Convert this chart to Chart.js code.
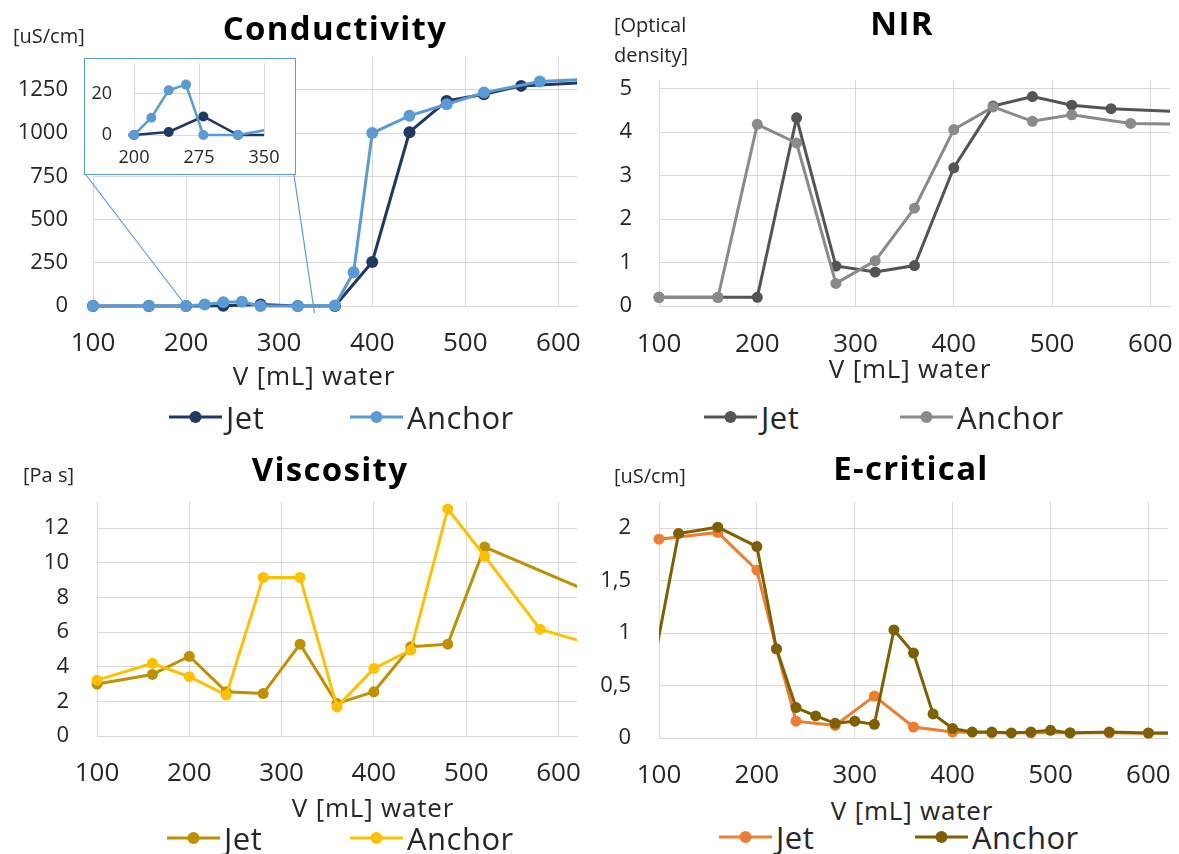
<!DOCTYPE html>
<html><head><meta charset="utf-8">
<script src="https://cdn.jsdelivr.net/npm/chart.js@4.4.1/dist/chart.umd.min.js"></script>
<style>
body{margin:0;background:#fff;width:1179px;height:854px;overflow:hidden;font-family:"Open Sans",sans-serif;color:#262626}
#wrap{position:relative;width:1179px;height:854px}
canvas{position:absolute}
.t{position:absolute;transform:translate(-50%,-50%);font-weight:700;font-size:33px;letter-spacing:1.3px;white-space:nowrap;color:#000}
.u{position:absolute;font-size:20px;line-height:30px;white-space:nowrap;transform:translateY(-50%)}
.xt{position:absolute;transform:translate(-50%,-50%);font-size:26px;letter-spacing:0.8px;white-space:nowrap}
.lg{position:absolute;display:flex;align-items:center;transform:translateY(-50%);font-size:31px;letter-spacing:0.5px;white-space:nowrap}
.lg svg{margin-right:4px}
#inset{background:#fff;outline:1.5px solid #5B9BD5;outline-offset:-1px;z-index:2}
</style>
</head><body><div id="wrap">
<canvas id="c1" width="590" height="360" style="left:0;top:0"></canvas>
<canvas id="c2" width="589" height="360" style="left:590px;top:0"></canvas>
<canvas id="c3" width="590" height="350" style="left:0;top:440px"></canvas>
<canvas id="c4" width="589" height="350" style="left:590px;top:440px"></canvas>
<canvas id="inset" width="212" height="117" style="left:84px;top:58px"></canvas>

<div class="t" style="left:335px;top:27px">Conductivity</div>
<div class="t" style="left:902px;top:22px">NIR</div>
<div class="t" style="left:330px;top:468px">Viscosity</div>
<div class="t" style="left:911px;top:467px">E-critical</div>

<div class="u" style="left:13px;top:36px">[uS/cm]</div>
<div class="u" style="left:614px;top:25px">[Optical</div>
<div class="u" style="left:614px;top:55px">density]</div>
<div class="u" style="left:23px;top:475px">[Pa s]</div>
<div class="u" style="left:614px;top:476px">[uS/cm]</div>

<div class="xt" style="left:314px;top:375px">V [mL] water</div>
<div class="xt" style="left:910px;top:368px">V [mL] water</div>
<div class="xt" style="left:373px;top:807px">V [mL] water</div>
<div class="xt" style="left:912px;top:810px">V [mL] water</div>

<div id="legends"></div>
</div>
<script>
// ---------- DATA ----------
const condJetX    = [100,160,200,240,280,320,360,400,440,480,520,560,640];
const condJet     = [0,0,0,1.5,9,0,0,255,1005,1186,1225,1273,1295];
const condAnchorX = [100,160,200,220,240,260,280,320,360,380,400,440,480,520,580,640];
const condAnchor  = [0,0,0,8.4,21.7,24.5,0,0,3,195,1000,1100,1167,1234,1298,1313];

const nirJetX    = [100,160,200,240,280,320,360,400,440,480,520,560,640];
const nirJet     = [0.2,0.2,0.2,4.33,0.92,0.78,0.93,3.18,4.6,4.82,4.62,4.54,4.46];
const nirAnchorX = [100,160,200,240,280,320,360,400,440,480,520,580,640];
const nirAnchor  = [0.2,0.2,4.18,3.75,0.52,1.04,2.25,4.06,4.58,4.25,4.4,4.2,4.18];

const viscJetX    = [100,160,200,240,280,320,360,400,440,480,520,640];
const viscJet     = [3.0,3.55,4.6,2.55,2.45,5.3,1.87,2.55,5.15,5.3,10.9,8.18];
const viscAnchorX = [100,160,200,240,280,320,360,400,440,480,520,580,640];
const viscAnchor  = [3.22,4.19,3.42,2.36,9.15,9.15,1.68,3.9,4.96,13.1,10.37,6.16,5.23];

const ecJetX    = [100,160,200,220,240,280,320,360,400,440,480,520,560,600,640];
const ecJet     = [1.895,1.96,1.6,0.85,0.16,0.12,0.4,0.105,0.057,0.05,0.05,0.05,0.05,0.045,0.045];
const ecAnchorX = [80,120,160,200,220,240,260,280,300,320,340,360,380,400,420,440,460,480,500,520,560,600,640];
const ecAnchor  = [0,1.95,2.01,1.825,0.85,0.29,0.21,0.14,0.16,0.13,1.03,0.81,0.23,0.09,0.057,0.057,0.048,0.057,0.073,0.048,0.057,0.048,0.045];

const seriesNames = ['Jet','Anchor'];
const xTitle = 'V [mL] water';
const xTicks = [100,200,300,400,500,600];
const condYTicks = [0,250,500,750,1000,1250];
const nirYTicks = [0,1,2,3,4,5];
const viscYTicks = [0,2,4,6,8,10,12];
const ecYTicks = [0,0.5,1,1.5,2];
const insetXTicks = [200,275,350];
const insetYTicks = [0,20];

// ---------- STYLE ----------
const COLORS = {
  cond:['#1F3864','#5B9BD5'],
  nir:['#545454','#8A8A8A'],
  visc:['#BF9000','#FFC000'],
  ec:['#ED7D31','#7F6000']
};
const GRID = '#d9d9d9';
const TXT = '#262626';
Chart.defaults.font.family = '"Open Sans", sans-serif';
Chart.defaults.color = TXT;

const pts = (xs, ys) => xs.map((x,i)=>({x, y: ys[i]}));
const onlyTicks = list => axis => { axis.ticks = list.map(v=>({value:v})); };

function ds(label, data, color, order, r, clipLeft){
  return {label, data, borderColor:color, backgroundColor:color, pointBackgroundColor:color,
    pointBorderWidth:0, pointRadius:r, pointHoverRadius:r, borderWidth:3, tension:0, order,
    clip:{left:clipLeft, top:8, right:0, bottom:8}};
}

function makeChart(id, o){
  return new Chart(document.getElementById(id), {
    type:'line',
    data:{datasets:o.datasets},
    options:{
      responsive:false, animation:false, events:[],
      layout:{padding:{top:o.top, left:0, right:o.w - o.right, bottom:0}},
      plugins:{legend:{display:false}, title:{display:false}, tooltip:{enabled:false}},
      scales:{
        x:{type:'linear', min:o.xMin, max:o.xMax,
          afterBuildTicks:onlyTicks(o.xTicks),
          afterFit:s=>{s.height = o.h - o.bottom; s.paddingLeft = 0; s.paddingRight = 0;},
          grid:{color:GRID, drawTicks:false},
          border:{color:GRID},
          ticks:{font:{size:o.xFont}, padding:o.xPad, color:TXT, maxRotation:0, autoSkip:false}},
        y:{type:'linear', min:o.yMin, max:o.yMax,
          afterBuildTicks:onlyTicks(o.yTicks),
          afterFit:s=>{s.width = o.left; s.paddingTop = 0; s.paddingBottom = 0;},
          grid:{color:GRID, drawTicks:false},
          border:{color:GRID},
          ticks:{font:{size:o.yFont}, padding:o.yPad, color:TXT,
                 callback:o.yFmt || (v=>String(v))}}
      }
    },
    plugins:o.plugins || []
  });
}

// inset box (layout only)
const INSET = {left:84, top:58, width:212, height:117};
const zoomFrom = 200, zoomTo = 338;
const connectorPlugin = {
  id:'connectors',
  afterDatasetsDraw(chart){
    const {ctx, scales:{x,y}} = chart;
    ctx.save();
    ctx.strokeStyle = '#5B9BD5'; ctx.lineWidth = 1.2;
    ctx.beginPath();
    ctx.moveTo(INSET.left+2, INSET.top+INSET.height);
    ctx.lineTo(x.getPixelForValue(zoomFrom), y.getPixelForValue(0));
    ctx.moveTo(INSET.left+INSET.width-2, INSET.top+INSET.height);
    ctx.lineTo(x.getPixelForValue(zoomTo), y.getPixelForValue(0)+7);
    ctx.stroke();
    ctx.restore();
  }
};

makeChart('c1', {w:590,h:360,left:93,right:577,top:57,bottom:306,
  xMin:100,xMax:620,xTicks,yMin:0,yMax:1440,yTicks:condYTicks,
  xFont:26,yFont:22,xPad:22,yPad:25,
  datasets:[ds(seriesNames[0],pts(condJetX,condJet),COLORS.cond[0],1,6,8),
            ds(seriesNames[1],pts(condAnchorX,condAnchor),COLORS.cond[1],0,6,8)],
  plugins:[connectorPlugin]});

makeChart('c2', {w:589,h:360,left:69,right:580,top:80,bottom:306,
  xMin:100,xMax:620,xTicks,yMin:0,yMax:5.2,yTicks:nirYTicks,
  xFont:26,yFont:22,xPad:23,yPad:27,
  datasets:[ds(seriesNames[0],pts(nirJetX,nirJet),COLORS.nir[0],1,5.5,8),
            ds(seriesNames[1],pts(nirAnchorX,nirAnchor),COLORS.nir[1],0,5.5,8)]});

makeChart('c3', {w:590,h:350,left:97,right:577,top:62,bottom:296,
  xMin:100,xMax:620,xTicks,yMin:0,yMax:13.5,yTicks:viscYTicks,
  xFont:26,yFont:22,xPad:22,yPad:28,
  datasets:[ds(seriesNames[0],pts(viscJetX,viscJet),COLORS.visc[0],1,5.5,8),
            ds(seriesNames[1],pts(viscAnchorX,viscAnchor),COLORS.visc[1],0,5.5,8)]});

makeChart('c4', {w:589,h:350,left:69,right:578,top:62,bottom:298,
  xMin:100,xMax:620,xTicks,yMin:0,yMax:2.25,yTicks:ecYTicks,
  xFont:26,yFont:22,xPad:22,yPad:28,
  yFmt:v=>String(v).replace('.',','),
  datasets:[ds(seriesNames[0],pts(ecJetX,ecJet),COLORS.ec[0],1,5.5,8),
            ds(seriesNames[1],pts(ecAnchorX,ecAnchor),COLORS.ec[1],0,5.5,0)]});

// inset chart: zoom of conductivity 200-350
const insetDs = (label, data, color, order) => ({label, data, borderColor:color, backgroundColor:color,
  pointBackgroundColor:color, pointBorderWidth:0, pointRadius:5, borderWidth:2.5, tension:0, order,
  clip:{left:6, top:6, right:0, bottom:6}});
makeChart('inset', {w:212,h:117,left:50,right:180,top:4,bottom:77,
  xMin:200,xMax:350,xTicks:insetXTicks,yMin:0,yMax:35,yTicks:insetYTicks,
  xFont:18,yFont:18,xPad:12,yPad:22,
  datasets:[insetDs(seriesNames[0],pts(condJetX,condJet),COLORS.cond[0],1),
            insetDs(seriesNames[1],pts(condAnchorX,condAnchor),COLORS.cond[1],0)]});

// legends (HTML)
const legendPos = [
  ['cond',169,417,350,417],
  ['nir',704,417,900,417],
  ['visc',167,838,350,838],
  ['ec',719,837,915,837]
];
const lgHost = document.getElementById('legends');
legendPos.forEach(([k,x1,y1,x2,y2])=>{
  [[x1,y1,0],[x2,y2,1]].forEach(([x,y,i])=>{
    const c = COLORS[k][i];
    const d = document.createElement('div');
    d.className='lg'; d.style.left=x+'px'; d.style.top=y+'px';
    d.innerHTML = `<svg width="53" height="14"><line x1="0" y1="7" x2="53" y2="7" stroke="${c}" stroke-width="3"/><circle cx="26.5" cy="7" r="6" fill="${c}"/></svg><span>${seriesNames[i]}</span>`;
    lgHost.appendChild(d);
  });
});
</script>
</body></html>
